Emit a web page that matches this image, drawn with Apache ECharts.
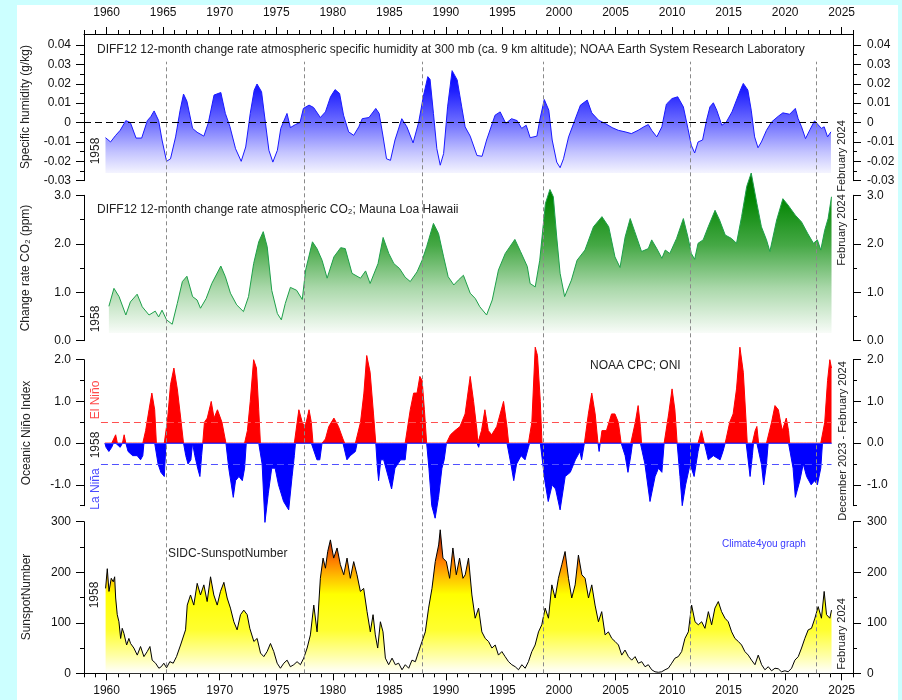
<!DOCTYPE html>
<html><head><meta charset="utf-8">
<script src="https://cdn.jsdelivr.net/npm/echarts@6/dist/echarts.min.js"></script>
<style>html,body{margin:0;padding:0;background:#fff}#c{width:902px;height:700px}</style>
</head><body><div id="c"></div><script>
// ---------------- DATA ----------------
const humidity = [[1959.9,-0.0078],[1960.35,-0.010],[1960.8,-0.0066],[1961.2,-0.004],[1961.7,0.001],[1962.1,0.0],[1962.6,-0.008],[1963.1,-0.008],[1963.6,0.001],[1963.9,0.003],[1964.2,0.006],[1964.6,0.001],[1964.9,-0.009],[1965.3,-0.020],[1965.65,-0.0187],[1966.1,-0.0074],[1966.5,0.0064],[1966.8,0.0147],[1967.1,0.011],[1967.6,-0.003],[1968.0,-0.005],[1968.6,-0.007],[1969.0,0.0],[1969.5,0.0142],[1970.1,0.0155],[1970.5,0.0047],[1970.9,-0.002],[1971.4,-0.0135],[1971.9,-0.020],[1972.3,-0.0126],[1972.7,0.0047],[1973.05,0.0167],[1973.3,0.0199],[1973.7,0.0159],[1974.05,-0.0005],[1974.35,-0.0143],[1974.7,-0.0204],[1975.1,-0.0143],[1975.4,-0.003],[1975.95,0.0047],[1976.25,-0.0026],[1976.7,-0.001],[1977.1,0.0],[1977.4,0.0073],[1977.9,0.009],[1978.3,0.0078],[1978.9,0.0026],[1979.35,0.0055],[1979.8,0.0133],[1980.2,0.017],[1980.6,0.015],[1980.95,0.0038],[1981.4,-0.0048],[1981.85,-0.0066],[1982.3,-0.0022],[1982.6,0.002],[1983.2,0.0026],[1983.8,0.0073],[1984.1,0.0047],[1984.45,-0.0074],[1984.75,-0.0187],[1985.1,-0.0195],[1985.5,-0.009],[1986.1,0.002],[1986.55,-0.0022],[1987.1,-0.0105],[1987.6,0.0003],[1988.0,0.0133],[1988.4,0.0237],[1988.6,0.0223],[1988.9,0.0047],[1989.2,-0.0135],[1989.5,-0.022],[1989.8,-0.016],[1990.15,0.0081],[1990.55,0.0268],[1991.0,0.022],[1991.4,0.0081],[1991.7,-0.0022],[1992.15,-0.007],[1992.75,-0.017],[1993.2,-0.0174],[1993.6,-0.009],[1994.35,0.0038],[1994.8,0.0055],[1995.3,-0.0005],[1995.8,0.002],[1996.3,0.001],[1996.7,-0.003],[1997.1,-0.0014],[1997.45,-0.0078],[1998.05,-0.007],[1998.3,0.0012],[1998.7,0.0119],[1999.1,0.0064],[1999.4,-0.009],[1999.8,-0.0204],[2000.1,-0.0233],[2000.4,-0.0187],[2000.85,-0.0074],[2001.4,0.0012],[2001.9,0.009],[2002.5,0.0116],[2002.9,0.005],[2003.5,0.0012],[2004.1,-0.0005],[2004.7,-0.0026],[2005.25,-0.004],[2005.85,-0.0048],[2006.4,-0.0057],[2007.0,-0.004],[2007.5,-0.0022],[2007.9,-0.001],[2008.2,-0.004],[2008.65,-0.0074],[2009.1,-0.0022],[2009.5,0.0095],[2010.0,0.0124],[2010.5,0.0133],[2011.0,0.0081],[2011.4,-0.003],[2011.7,-0.0117],[2012.0,-0.0157],[2012.3,-0.010],[2012.7,-0.009],[2013.05,0.0012],[2013.35,0.0081],[2013.65,0.0102],[2013.95,0.0064],[2014.4,-0.0014],[2014.8,0.0003],[2015.3,0.0055],[2015.7,0.0116],[2016.1,0.0176],[2016.3,0.0202],[2016.7,0.0168],[2017.0,0.0064],[2017.3,-0.0074],[2017.6,-0.013],[2017.9,-0.010],[2018.35,-0.004],[2018.8,0.0003],[2019.4,0.0033],[2019.8,0.005],[2020.4,0.0043],[2020.9,0.0073],[2021.15,0.002],[2021.45,-0.0022],[2021.8,-0.0083],[2022.2,-0.0036],[2022.6,0.0009],[2022.9,-0.001],[2023.2,-0.003],[2023.45,-0.0022],[2023.75,-0.0074],[2024.05,-0.0048]];

const co2 = [[1960.2,0.71],[1960.65,1.08],[1961.1,0.91],[1961.7,0.53],[1962.1,0.80],[1962.7,0.96],[1963.15,0.70],[1963.75,0.53],[1964.3,0.61],[1964.6,0.49],[1964.9,0.63],[1965.3,0.43],[1965.8,0.34],[1966.25,0.77],[1966.7,1.22],[1967.1,1.33],[1967.6,0.91],[1968.0,0.84],[1968.3,0.67],[1968.8,0.87],[1969.3,1.18],[1970.1,1.54],[1970.5,1.32],[1970.95,0.98],[1971.5,0.74],[1972.1,0.60],[1972.55,0.91],[1973.0,1.59],[1973.45,2.04],[1973.85,2.25],[1974.2,1.94],[1974.6,1.04],[1975.1,0.56],[1975.45,0.43],[1975.8,0.77],[1976.25,1.10],[1976.8,1.04],[1977.3,0.85],[1977.6,1.46],[1978.2,2.04],[1978.6,1.90],[1979.05,1.66],[1979.5,1.29],[1980.1,1.73],[1980.7,1.92],[1981.1,1.90],[1981.7,1.39],[1982.45,1.29],[1982.9,1.44],[1983.3,1.18],[1984.0,1.59],[1984.45,2.13],[1984.95,1.80],[1985.4,1.59],[1985.9,1.49],[1986.4,1.31],[1986.85,1.22],[1987.45,1.42],[1987.9,1.66],[1988.3,1.94],[1988.9,2.42],[1989.35,2.21],[1989.8,1.73],[1990.2,1.32],[1990.7,1.15],[1991.1,1.25],[1991.55,1.35],[1992.15,0.98],[1992.6,0.87],[1993.0,0.70],[1993.6,0.53],[1994.1,0.84],[1994.65,1.46],[1995.25,1.80],[1996.1,2.09],[1996.6,1.84],[1997.2,1.53],[1997.45,1.18],[1997.9,1.11],[1998.3,1.66],[1998.8,2.83],[1999.2,3.12],[1999.5,2.97],[1999.8,2.14],[2000.1,1.39],[2000.5,0.91],[2001.1,1.25],[2001.6,1.66],[2002.3,1.87],[2003.05,2.35],[2003.8,2.56],[2004.4,2.35],[2004.95,1.73],[2005.4,1.51],[2005.85,2.14],[2006.3,2.52],[2006.7,2.25],[2007.3,1.84],[2007.9,1.90],[2008.2,2.08],[2008.65,1.90],[2009.1,1.70],[2009.4,1.87],[2009.8,1.80],[2010.4,2.11],[2011.0,2.52],[2011.4,2.14],[2011.7,1.80],[2012.0,1.68],[2012.3,2.01],[2012.75,2.08],[2013.2,2.35],[2013.8,2.69],[2014.2,2.49],[2014.7,2.18],[2015.25,2.11],[2015.7,2.01],[2016.15,2.56],[2016.6,3.18],[2017.0,3.46],[2017.5,2.83],[2017.9,2.35],[2018.35,2.08],[2018.65,1.84],[2019.25,2.49],[2019.8,2.93],[2020.25,2.80],[2020.9,2.59],[2021.45,2.45],[2022.0,2.21],[2022.5,2.01],[2022.85,2.08],[2023.15,1.87],[2023.5,2.28],[2023.8,2.52],[2024.1,2.97]];

const oni = [[1959.85,0],[1959.95,-0.1],[1960.2,-0.2],[1960.45,-0.1],[1960.6,0],[1960.8,0.2],[1960.95,0],[1961.2,-0.1],[1961.4,0],[1961.55,0.2],[1961.7,0],[1961.9,-0.2],[1962.3,-0.3],[1962.7,-0.3],[1963.0,-0.4],[1963.2,-0.3],[1963.3,0],[1963.45,0.3],[1963.75,0.8],[1964.0,1.2],[1964.25,0.8],[1964.4,0],[1964.55,-0.5],[1964.8,-0.7],[1965.1,-0.8],[1965.25,0],[1965.4,0.6],[1965.65,1.4],[1965.95,1.8],[1966.25,1.3],[1966.55,0.6],[1966.8,0],[1967.0,-0.3],[1967.2,-0.5],[1967.45,-0.4],[1967.6,0],[1967.8,-0.3],[1968.05,-0.6],[1968.25,-0.8],[1968.4,-0.3],[1968.5,0],[1968.65,0.5],[1968.9,0.6],[1969.25,1.0],[1969.5,0.6],[1969.8,0.8],[1970.2,0.5],[1970.55,0],[1970.8,-0.6],[1971.2,-1.3],[1971.4,-0.9],[1971.7,-0.8],[1972.0,-0.9],[1972.2,-0.6],[1972.35,0],[1972.45,0.3],[1972.7,1.0],[1973.0,2.0],[1973.25,1.8],[1973.45,0.8],[1973.6,0],[1973.75,-0.5],[1974.0,-1.9],[1974.3,-1.2],[1974.6,-0.6],[1974.9,-0.6],[1975.2,-1.0],[1975.65,-1.4],[1976.1,-1.6],[1976.4,-0.8],[1976.6,-0.3],[1976.7,0],[1976.85,0.5],[1977.0,0.8],[1977.3,0.5],[1977.5,0.4],[1977.65,0.5],[1977.9,0.8],[1978.1,0.5],[1978.25,0],[1978.6,-0.4],[1978.85,-0.4],[1979.05,0],[1979.35,0.1],[1979.65,0.4],[1980.1,0.6],[1980.5,0.4],[1980.9,0.1],[1981.05,0],[1981.25,-0.4],[1981.55,-0.3],[1982.0,-0.2],[1982.15,0],[1982.45,0.5],[1982.75,1.2],[1983.0,2.1],[1983.3,1.7],[1983.6,0.7],[1983.8,0],[1983.95,-0.6],[1984.05,-0.9],[1984.25,-0.4],[1984.5,-0.4],[1984.9,-0.8],[1985.2,-1.1],[1985.5,-0.6],[1986.0,-0.4],[1986.4,-0.4],[1986.55,0],[1986.85,0.8],[1987.15,1.2],[1987.45,1.2],[1987.7,1.6],[1987.9,1.5],[1988.1,0.8],[1988.3,0],[1988.5,-0.6],[1988.75,-1.5],[1989.05,-1.8],[1989.35,-1.3],[1989.65,-0.6],[1989.85,-0.4],[1990.05,0],[1990.4,0.2],[1990.8,0.3],[1991.25,0.4],[1991.7,0.7],[1992.15,1.6],[1992.45,1.0],[1992.75,0.3],[1992.82,0],[1992.9,-0.1],[1992.98,0],[1993.15,0.3],[1993.45,0.8],[1993.75,0.3],[1994.05,0.2],[1994.5,0.4],[1995.1,1.0],[1995.4,0.4],[1995.55,0],[1995.75,-0.5],[1996.0,-0.9],[1996.25,-0.5],[1996.65,-0.3],[1997.0,-0.4],[1997.3,-0.1],[1997.4,0],[1997.6,0.5],[1997.9,2.3],[1998.1,2.1],[1998.35,1.0],[1998.5,0],[1998.75,-0.9],[1999.05,-1.4],[1999.4,-1.0],[1999.7,-1.1],[2000.1,-1.6],[2000.55,-0.8],[2001.0,-0.7],[2001.45,-0.4],[2001.85,-0.2],[2002.0,-0.4],[2002.25,0],[2002.6,0.7],[2002.9,1.2],[2003.2,0.7],[2003.45,0],[2003.55,-0.2],[2003.65,0],[2003.8,0.3],[2004.2,0.3],[2004.65,0.7],[2004.95,0.7],[2005.25,0.5],[2005.5,0],[2005.85,-0.3],[2006.1,-0.7],[2006.35,-0.3],[2006.5,0],[2006.75,0.5],[2007.0,0.9],[2007.2,0.4],[2007.3,0],[2007.6,-0.5],[2008.05,-1.4],[2008.5,-0.8],[2008.8,-0.6],[2009.1,-0.7],[2009.3,0],[2009.7,0.7],[2010.0,1.3],[2010.25,0.8],[2010.45,0],[2010.7,-0.8],[2010.9,-1.5],[2011.2,-1.0],[2011.6,-0.5],[2011.95,-0.8],[2012.3,-0.2],[2012.45,0],[2012.6,0.3],[2012.85,0],[2013.2,-0.4],[2013.65,-0.3],[2014.25,-0.4],[2014.5,-0.2],[2014.7,0],[2015.1,0.5],[2015.4,0.7],[2015.7,1.3],[2016.0,2.3],[2016.3,1.7],[2016.55,0.5],[2016.65,0],[2016.9,-0.8],[2017.1,-0.3],[2017.2,0],[2017.35,0.3],[2017.5,0.4],[2017.65,0],[2017.9,-0.5],[2018.1,-1.0],[2018.35,-0.5],[2018.5,0],[2018.8,0.5],[2019.1,0.9],[2019.4,0.8],[2019.6,0.5],[2019.75,0.3],[2020.1,0.6],[2020.3,0.3],[2020.4,0],[2020.7,-0.6],[2020.9,-1.3],[2021.3,-0.9],[2021.6,-0.5],[2021.9,-0.8],[2022.3,-1.0],[2022.6,-0.9],[2022.85,-1.0],[2023.15,-0.6],[2023.3,0],[2023.5,0.5],[2023.75,1.5],[2023.95,2.0],[2024.1,1.8]];

const sunspots = [[1959.91,168],[1960.06,207],[1960.21,162],[1960.41,188],[1960.59,181],[1960.71,191],[1960.8,149],[1960.94,116],[1961.09,102],[1961.24,69],[1961.38,89],[1961.53,79],[1961.77,56],[1961.97,69],[1962.12,59],[1962.41,50],[1962.71,36],[1963.0,53],[1963.3,33],[1963.59,43],[1963.83,53],[1964.03,26],[1964.33,20],[1964.62,10],[1964.83,13],[1965.06,20],[1965.3,11],[1965.59,23],[1965.89,20],[1966.18,33],[1966.54,56],[1966.98,86],[1967.13,135],[1967.42,155],[1967.71,135],[1968.01,178],[1968.3,155],[1968.6,175],[1968.89,142],[1969.19,191],[1969.48,155],[1969.78,135],[1970.07,162],[1970.37,180],[1970.66,149],[1970.95,129],[1971.25,102],[1971.54,86],[1971.84,116],[1972.13,125],[1972.43,116],[1972.66,89],[1973.02,63],[1973.31,69],[1973.61,40],[1973.9,33],[1974.19,43],[1974.49,59],[1974.78,43],[1975.08,20],[1975.37,10],[1975.67,20],[1975.96,26],[1976.25,13],[1976.55,17],[1976.84,23],[1977.14,17],[1977.43,30],[1977.73,50],[1978.02,76],[1978.32,135],[1978.61,82],[1978.9,188],[1979.14,228],[1979.35,208],[1979.55,241],[1979.79,264],[1980.08,228],[1980.38,248],[1980.67,215],[1980.97,195],[1981.26,228],[1981.55,188],[1981.85,221],[1982.14,195],[1982.44,162],[1982.73,168],[1983.03,122],[1983.32,82],[1983.56,116],[1983.76,76],[1983.97,50],[1984.21,102],[1984.44,82],[1984.65,30],[1984.94,17],[1985.24,30],[1985.53,17],[1985.82,20],[1986.12,7],[1986.41,17],[1986.71,10],[1987.0,26],[1987.3,23],[1987.59,43],[1987.89,63],[1988.18,82],[1988.47,129],[1988.77,168],[1989.06,221],[1989.36,254],[1989.5,284],[1989.74,228],[1990.04,221],[1990.33,188],[1990.62,248],[1990.92,195],[1991.21,228],[1991.51,188],[1991.71,195],[1992.0,228],[1992.3,155],[1992.59,109],[1992.89,129],[1993.18,82],[1993.48,69],[1993.77,63],[1994.07,50],[1994.36,56],[1994.65,36],[1994.95,43],[1995.24,33],[1995.54,23],[1995.83,17],[1996.13,13],[1996.42,7],[1996.72,17],[1997.01,10],[1997.3,23],[1997.6,43],[1997.89,56],[1998.19,82],[1998.48,96],[1998.78,129],[1999.07,109],[1999.37,175],[1999.66,149],[1999.95,188],[2000.25,215],[2000.54,241],[2000.84,188],[2001.13,149],[2001.43,175],[2001.72,234],[2002.02,195],[2002.31,188],[2002.61,149],[2002.9,175],[2003.19,135],[2003.49,102],[2003.78,122],[2004.08,76],[2004.37,82],[2004.67,69],[2004.96,63],[2005.26,56],[2005.55,36],[2005.84,46],[2006.14,33],[2006.43,26],[2006.73,33],[2007.02,20],[2007.32,23],[2007.61,13],[2007.9,17],[2008.2,7],[2008.49,3],[2008.79,2],[2009.08,3],[2009.38,7],[2009.67,10],[2009.97,20],[2010.26,30],[2010.55,33],[2010.85,43],[2011.14,69],[2011.44,82],[2011.73,135],[2012.03,102],[2012.32,96],[2012.62,102],[2012.91,89],[2013.21,122],[2013.5,96],[2013.79,129],[2014.09,142],[2014.38,122],[2014.68,109],[2014.97,102],[2015.27,82],[2015.56,69],[2015.86,63],[2016.15,56],[2016.44,43],[2016.74,36],[2017.03,26],[2017.33,17],[2017.62,36],[2017.92,17],[2018.21,7],[2018.51,13],[2018.8,5],[2019.1,10],[2019.39,9],[2019.68,3],[2019.98,5],[2020.27,3],[2020.57,10],[2020.86,26],[2021.16,33],[2021.45,50],[2021.74,69],[2022.04,86],[2022.33,89],[2022.63,109],[2022.92,132],[2023.21,109],[2023.45,162],[2023.66,116],[2023.95,109],[2024.1,125]];

const eventYears = [1965.3, 1977.47, 1987.9, 1998.6, 2011.6, 2022.78];
const solarCycles = [[1960.75,22,'19'],[1970.42,22,'20'],[1981.95,22,'21'],[1991.36,22,'22'],[2001.52,22,'23'],[2013.75,22,'24'],[2023.07,22,'25']];
const oniThresholds = [0.5, -0.5];

const xMajorTicks = [1960,1965,1970,1975,1980,1985,1990,1995,2000,2005,2010,2015,2020,2025];
const xMinorTicks = [1958,1959,1961,1962,1963,1964,1966,1967,1968,1969,1971,1972,1973,1974,1976,1977,1978,1979,1981,1982,1983,1984,1986,1987,1988,1989,1991,1992,1993,1994,1996,1997,1998,1999,2001,2002,2003,2004,2006,2007,2008,2009,2011,2012,2013,2014,2016,2017,2018,2019,2021,2022,2023,2024,2026];
const humTicks = [-0.03,-0.02,-0.01,0,0.01,0.02,0.03,0.04];
const humMinor = [-0.025,-0.015,-0.005,0.005,0.015,0.025,0.035];
const co2Ticks = [0,1,2,3];
const co2Minor = [0.5,1.5,2.5];
const oniTicks = [-1,0,1,2];
const oniMinor = [-1.5,-0.5,0.5,1.5];
const ssTicks = [0,100,200,300];
const ssMinor = [50,150,250];

// El Niño (positive) and La Niña (negative) parts of the ONI series
const oniPos = oni.map(d => [d[0], Math.max(d[1], 0)]);
const oniNeg = oni.map(d => [d[0], Math.min(d[1], 0)]);

// ---------------- LAYOUT ----------------
const FONT = '"Liberation Sans", Arial, sans-serif';
const gridDefs = [
  {top:34, height:146.7},
  {top:195.3, height:145.4},
  {top:359.7, height:146},
  {top:521.7, height:151.6},
  {top:61.7, height:611.6}
];
const grid = gridDefs.map(g => ({left:84, right:49, top:g.top, height:g.height, containLabel:false, outerBoundsMode:'none'}));

const panels = [
  {min:-0.03, max:0.0457, major:humTicks, minor:humMinor, fmt:v => (Math.abs(v) < 1e-9 ? '0' : v.toFixed(2))},
  {min:0, max:3, major:co2Ticks, minor:co2Minor, fmt:v => v.toFixed(1)},
  {min:-1.5, max:2, major:oniTicks, minor:oniMinor, fmt:v => v.toFixed(1)},
  {min:0, max:300, major:ssTicks, minor:ssMinor, fmt:v => String(Math.round(v))}
];

function xa(g, pos, ticks, len, labels, showLine, show) {
  return {
    type:'value', gridIndex:g, min:1958, max:2026, position:pos, show:show,
    axisLine:{show:showLine, onZero:false, lineStyle:{color:'#000', width:1}},
    axisTick:{show:!!ticks, customValues:ticks || undefined, length:len, lineStyle:{color:'#000', width:1}},
    axisLabel:{show:!!labels, customValues:labels || undefined, formatter:v => String(Math.round(v)),
      margin: pos === 'top' ? 15 : 11, color:'#111', fontSize:12, fontFamily:FONT},
    splitLine:{show:false}
  };
}
const xAxis = [
  xa(0,'top',xMajorTicks,7,xMajorTicks,true,true),
  xa(0,'top',xMinorTicks,4,null,false,true),
  xa(1,'bottom',null,0,null,false,false),
  xa(2,'bottom',null,0,null,false,false),
  xa(3,'bottom',xMajorTicks,7,xMajorTicks,true,true),
  xa(3,'bottom',xMinorTicks,4,null,false,true),
  xa(4,'bottom',null,0,null,false,false)
];

function ya(g, pos, p, major) {
  return {
    type:'value', gridIndex:g, min:p.min, max:p.max, position:pos,
    axisLine:{show:major, onZero:false, lineStyle:{color:'#000', width:1}},
    axisTick:{show:true, customValues: major ? p.major : p.minor, length: major ? 8 : 4, lineStyle:{color:'#000', width:1}},
    axisLabel:{show:major, customValues:p.major, formatter:p.fmt, margin: pos === 'left' ? 13 : 14, color:'#111', fontSize:12, fontFamily:FONT},
    splitLine:{show:false}
  };
}
const yAxis = [];
panels.forEach((p, g) => {
  yAxis.push(ya(g,'left',p,true), ya(g,'left',p,false), ya(g,'right',p,true), ya(g,'right',p,false));
});
yAxis.push({type:'value', gridIndex:4, min:0, max:1, show:false});

const lin = stops => ({type:'linear', x:0, y:0, x2:0, y2:1, colorStops:stops.map(s => ({offset:s[0], color:s[1]}))});
const noLabel = {show:false};
const hLine = (x0, x1, y) => [{coord:[x0, y]}, {coord:[x1, y]}];
const styled = (pair, ls) => [Object.assign({lineStyle:ls}, pair[0]), pair[1]];

const series = [
  { // humidity
    type:'line', xAxisIndex:0, yAxisIndex:0, data:humidity, showSymbol:false, symbol:'none', silent:true,
    lineStyle:{color:'#1a1aff', width:1},
    areaStyle:{origin:-0.026, opacity:1, color:lin([[0,'#0000ff'],[0.2,'#2020ff'],[0.5,'#6c6cff'],[0.8,'#c4c4ff'],[1,'#f4f4ff']])},
    markLine:{silent:true, symbol:['none','none'], label:noLabel, lineStyle:{color:'#000', type:[7,4], width:1},
      data:[hLine(1958, 2024, 0)]}
  },
  { // CO2
    type:'line', xAxisIndex:2, yAxisIndex:4, data:co2, showSymbol:false, symbol:'none', silent:true, clip:false,
    lineStyle:{color:'#1ea04a', width:1},
    areaStyle:{origin:0.16, opacity:1, color:lin([[0,'#006a00'],[0.15,'#008400'],[0.45,'#45a845'],[0.72,'#aad8aa'],[1,'#f8fcf8']])}
  },
  { // ONI La Niña part
    type:'line', xAxisIndex:3, yAxisIndex:8, data:oniNeg, showSymbol:false, symbol:'none', silent:true, clip:false,
    lineStyle:{color:'#0000ff', width:1},
    areaStyle:{origin:0, opacity:1, color:'#0000ff'}
  },
  { // ONI El Niño part
    type:'line', xAxisIndex:3, yAxisIndex:8, data:oniPos, showSymbol:false, symbol:'none', silent:true, clip:false,
    lineStyle:{color:'#ff0000', width:1},
    areaStyle:{origin:0, opacity:1, color:'#ff0000'}
  },
  { // ONI thresholds and zero line
    type:'line', xAxisIndex:3, yAxisIndex:8, data:[], silent:true,
    markLine:{silent:true, symbol:['none','none'], label:noLabel,
      data:[
        styled(hLine(1959.5, 2024.1, oniThresholds[0]), {color:'#ff5050', type:[7,4], width:1}),
        styled(hLine(1959.5, 2024.1, oniThresholds[1]), {color:'#5050ff', type:[7,4], width:1}),
        styled(hLine(1959.85, 2024.1, 0), {color:'#3a3aff', type:'solid', width:1})
      ]}
  },
  { // sunspots
    type:'line', xAxisIndex:4, yAxisIndex:12, data:sunspots, showSymbol:false, symbol:'none', silent:true,
    lineStyle:{color:'#000', width:1},
    areaStyle:{origin:0, opacity:1, color:lin([[0,'#7a1800'],[0.1,'#c83c00'],[0.22,'#ff8000'],[0.33,'#ffc000'],[0.45,'#ffff00'],[0.7,'#ffff30'],[0.88,'#ffffa8'],[1,'#ffffff']])}
  },
  { // solar cycle numbers
    type:'scatter', xAxisIndex:4, yAxisIndex:12, data:solarCycles, symbolSize:0, silent:true,
    label:{show:true, position:'inside', formatter:p => p.data[2], color:'#333', fontSize:14, fontFamily:FONT}
  },
  { // vertical dashed lines
    type:'line', xAxisIndex:6, yAxisIndex:16, data:[], silent:true,
    markLine:{silent:true, symbol:['none','none'], label:noLabel, lineStyle:{color:'#8a8a8a', type:[4,3], width:1},
      data:eventYears.map(v => ({xAxis:v}))}
  }
];

const T = (x, y, text, opt) => Object.assign({type:'text', x:x, y:y, silent:true,
  style:Object.assign({text:text, fill:'#222', font:'12px ' + FONT, textAlign:'left', textVerticalAlign:'middle'}, (opt && opt.style) || {})},
  opt && opt.rot ? {rotation:Math.PI/2} : {});
const V = (x, y, text, fill, size) => T(x, y, text, {rot:true, style:{textAlign:'center', fill:fill || '#222', font:(size || 12) + 'px ' + FONT}});

const graphic = [
  {type:'rect', shape:{x:0,y:0,width:17,height:700}, style:{fill:'#ccffff'}, silent:true},
  {type:'rect', shape:{x:0,y:0,width:902,height:5}, style:{fill:'#ccffff'}, silent:true},
  {type:'rect', shape:{x:898,y:0,width:4,height:700}, style:{fill:'#ccffff'}, silent:true},
  T(97, 50, 'DIFF12 12-month change rate atmospheric specific humidity at 300 mb (ca. 9 km altitude); NOAA Earth System Research Laboratory'),
  T(97, 210, 'DIFF12 12-month change rate atmospheric CO₂; Mauna Loa Hawaii'),
  T(590, 366, 'NOAA CPC; ONI'),
  T(168, 554, 'SIDC-SunspotNumber'),
  T(722, 544, 'Climate4you graph', {style:{fill:'#3a3aff', font:'10px ' + FONT}}),
  V(26, 107, 'Specific humidity (g/kg)'),
  V(26, 268, 'Change rate CO₂ (ppm)'),
  V(27, 433, 'Oceanic Niño Index'),
  V(27, 597, 'SunspotNumber'),
  V(96, 151, '1958'), V(96, 319, '1958'), V(96, 445, '1958'), V(95, 595, '1958'),
  V(96, 400, 'El Niño', '#ff4a4a'), V(96, 489, 'La Niña', '#4a4aff'),
  V(842, 156, 'February 2024', '#222', 11),
  V(842, 230, 'February 2024', '#222', 11),
  V(843, 441, 'December 2023 - February 2024', '#222', 11),
  V(842, 634, 'February 2024', '#222', 11)
];

const chart = echarts.init(document.getElementById('c'), null, {renderer:'canvas'});
chart.setOption({
  animation:false,
  backgroundColor:'#ffffff',
  textStyle:{fontFamily:FONT},
  grid:grid,
  xAxis:xAxis,
  yAxis:yAxis,
  series:series,
  graphic:graphic
});
</script></body></html>
